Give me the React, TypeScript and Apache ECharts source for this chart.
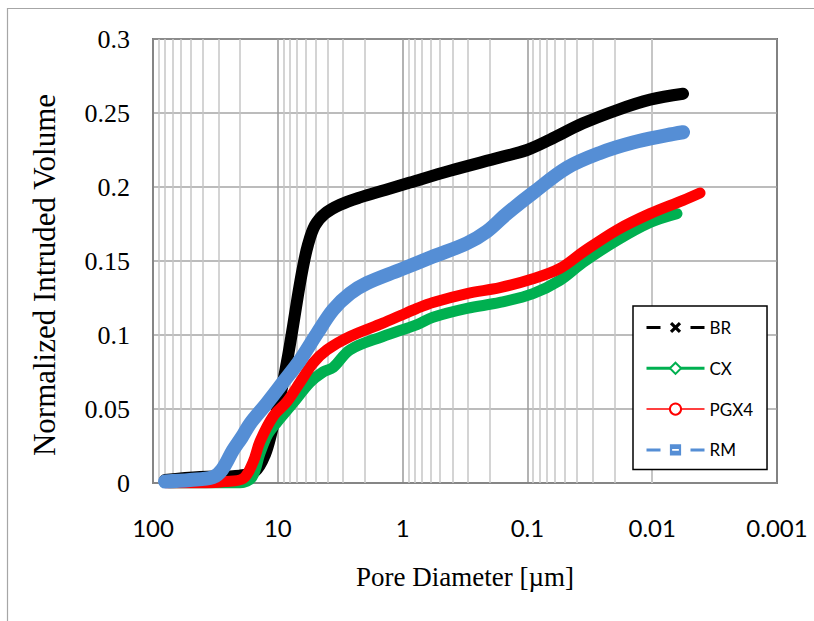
import React, { useEffect, useRef } from "react";
import * as echarts from "echarts";

// Cumulative intrusion curves (pore diameter in µm, normalized intruded volume)
const brDiameter = [80.1, 42.0, 20.1, 15.2, 12.7, 11.1, 9.6, 8.44, 7.55, 6.89, 6.28, 5.73, 5.04, 4.19, 3.17, 2.19, 1.38, 0.873, 0.417, 0.166, 0.1008, 0.0659, 0.0359, 0.0191, 0.0104, 0.00566];
const brVolume = [0.002, 0.004, 0.005, 0.008, 0.019, 0.036, 0.058, 0.082, 0.106, 0.127, 0.146, 0.161, 0.174, 0.182, 0.188, 0.193, 0.198, 0.203, 0.211, 0.22, 0.225, 0.232, 0.243, 0.252, 0.259, 0.263];

const cxDiameter = [73.1, 42.0, 20.1, 16.1, 13.9, 12.0, 10.15, 7.55, 5.52, 4.34, 3.61, 2.64, 1.44, 0.766, 0.571, 0.305, 0.166, 0.0902, 0.0548, 0.0359, 0.0191, 0.0104, 0.00633];
const cxVolume = [0.0, 0.0, 0.0, 0.004, 0.02, 0.033, 0.041, 0.054, 0.068, 0.075, 0.078, 0.09, 0.099, 0.107, 0.112, 0.118, 0.122, 0.128, 0.137, 0.149, 0.164, 0.176, 0.182];

const pgDiameter = [77.2, 42.0, 26.5, 19.0, 15.8, 13.9, 10.9, 8.44, 6.64, 5.22, 4.03, 2.64, 1.44, 1.05, 0.766, 0.571, 0.305, 0.166, 0.0902, 0.0548, 0.0359, 0.0191, 0.0104, 0.00566, 0.00414];
const pgVolume = [0.0, 0.0, 0.001, 0.003, 0.014, 0.028, 0.045, 0.055, 0.068, 0.081, 0.09, 0.099, 0.108, 0.113, 0.118, 0.122, 0.128, 0.132, 0.138, 0.145, 0.156, 0.171, 0.182, 0.191, 0.196];

const rmDiameter = [80.1, 50.5, 33.1, 28.0, 22.9, 19.4, 16.7, 12.2, 9.08, 6.64, 4.85, 3.61, 2.64, 1.93, 1.05, 0.571, 0.305, 0.211, 0.146, 0.0902, 0.0482, 0.0262, 0.01425, 0.00761, 0.00566];
const rmVolume = [0.001, 0.002, 0.004, 0.009, 0.022, 0.031, 0.04, 0.054, 0.068, 0.083, 0.101, 0.117, 0.128, 0.135, 0.144, 0.153, 0.162, 0.17, 0.182, 0.196, 0.213, 0.223, 0.23, 0.235, 0.237];

const seriesNames = ["BR", "CX", "PGX4", "RM"];
const seriesColors = ["#000000", "#00b050", "#ff0000", "#558ed5"];

const xTickLabels = ["100", "10", "1", "0.1", "0.01", "0.001"];
const yTickLabels = ["0", "0.05", "0.1", "0.15", "0.2", "0.25", "0.3"];

// Minor log gridlines: 2..9 within each decade
const gridDecades = [0.001, 0.01, 0.1, 1, 10];
const gridSteps = [2, 3, 4, 5, 6, 7, 8, 9];

const crossSymbol =
  "path://M2,0 L5,3 L8,0 L10,2 L7,5 L10,8 L8,10 L5,7 L2,10 L0,8 L3,5 L0,2 Z";
const barredSquare =
  "path://M0,0 L10,0 L10,10 L0,10 Z M2,4.2 L2,5.8 L8,5.8 L8,4.2 Z";

const zip = (xs: number[], ys: number[]) => xs.map((x, i) => [x, ys[i]]);

export default function App() {
  const ref = useRef<HTMLDivElement>(null);

  useEffect(() => {
    if (!ref.current) return;
    const chart = echarts.init(ref.current, undefined, { renderer: "svg" });

    const minorLines: { xAxis: number }[] = [];
    gridDecades.forEach((d) => gridSteps.forEach((s) => minorLines.push({ xAxis: +(d * s).toPrecision(3) })));

    const serif = "'Liberation Serif', 'Times New Roman', serif";
    const sans = "Lato, 'Noto Sans', sans-serif";

    const datasets = [
      zip(brDiameter, brVolume),
      zip(cxDiameter, cxVolume),
      zip(pgDiameter, pgVolume),
      zip(rmDiameter, rmVolume),
    ];
    const symbols = [crossSymbol, "emptyDiamond", "emptyCircle", barredSquare];
    const widths = [12, 11, 11, 14];

    const series: any[] = datasets.map((data, i) => ({
      name: seriesNames[i],
      type: "line",
      data,
      smooth: 0.35,
      showSymbol: false,
      symbol: symbols[i],
      symbolKeepAspect: true,
      color: seriesColors[i],
      lineStyle: { width: widths[i], color: seriesColors[i], cap: "round", join: "round" },
      emphasis: { disabled: true },
      silent: true,
      z: 2,
    }));

    series[0].markLine = {
      silent: true,
      symbol: "none",
      z: 1,
      label: { show: false },
      emphasis: { disabled: true },
      lineStyle: { color: "#c6c6c6", width: 1.5, type: "solid" },
      data: minorLines,
    };

    chart.setOption({
      animation: false,
      backgroundColor: "#ffffff",
      grid: {
        left: 153,
        top: 39,
        width: 624,
        height: 444,
        show: true,
        borderColor: "#000000",
        borderWidth: 1.5,
        backgroundColor: "transparent",
      },
      graphic: [
        {
          type: "rect",
          shape: { x: 7.5, y: 8.5, width: 900, height: 900 },
          style: { fill: "none", stroke: "#a6a6a6", lineWidth: 1.2 },
          silent: true,
          z: -1,
        },
      ],
      legend: {
        orient: "vertical",
        left: 633,
        top: 306,
        padding: [13, 14, 11, 12],
        itemWidth: 58,
        itemHeight: 14,
        itemGap: 23.8,
        backgroundColor: "#ffffff",
        borderColor: "#000000",
        borderWidth: 1.5,
        borderRadius: 0,
        selectedMode: false,
        textStyle: { fontFamily: sans, fontSize: 17, color: "#000000", lineHeight: 16 },
        data: [
          { name: "BR", lineStyle: { width: 3, type: [14, 30], cap: "butt" } },
          { name: "CX", lineStyle: { width: 3, type: "solid", cap: "butt" } },
          { name: "PGX4", lineStyle: { width: 1.5, type: "solid", cap: "butt" } },
          { name: "RM", lineStyle: { width: 3, type: [14, 30], cap: "butt" } },
        ],
      },
      xAxis: {
        type: "log",
        logBase: 10,
        min: 0.001,
        max: 100,
        inverse: true,
        axisLine: { show: true, lineStyle: { color: "#868686", width: 2 } },
        axisTick: { show: false },
        splitLine: { show: true, lineStyle: { color: "#9a9a9a", width: 1.5 } },
        axisLabel: {
          margin: 32,
          fontFamily: sans,
          fontSize: 24,
          color: "#000000",
          formatter: (v: number) => {
            const hit = xTickLabels.find((t) => Math.abs(Math.log10(Number(t)) - Math.log10(v)) < 1e-6);
            return hit ?? "";
          },
        },
        name: "Pore Diameter [µm]",
        nameLocation: "middle",
        nameGap: 80,
        nameTextStyle: { fontFamily: serif, fontSize: 27, color: "#000000" },
      },
      yAxis: {
        type: "value",
        min: 0,
        max: 0.3,
        interval: 0.05,
        axisLine: { show: true, lineStyle: { color: "#868686", width: 2 } },
        axisTick: { show: false },
        splitLine: { show: true, lineStyle: { color: "#a6a6a6", width: 1.5 } },
        axisLabel: {
          margin: 23,
          fontFamily: serif,
          fontSize: 26,
          color: "#000000",
          formatter: (_v: number, i: number) => yTickLabels[i] ?? "",
        },
        name: "Normalized Intruded Volume",
        nameLocation: "middle",
        nameRotate: 90,
        nameGap: 93,
        nameTextStyle: { fontFamily: serif, fontSize: 31, color: "#000000", padding: [0, 28, 0, 0] },
      },
      series,
    });

    return () => chart.dispose();
  }, []);

  return (
    <div
      ref={ref}
      style={{ position: "absolute", left: 0, top: 0, width: 814, height: 621, background: "#fff" }}
    />
  );
}
